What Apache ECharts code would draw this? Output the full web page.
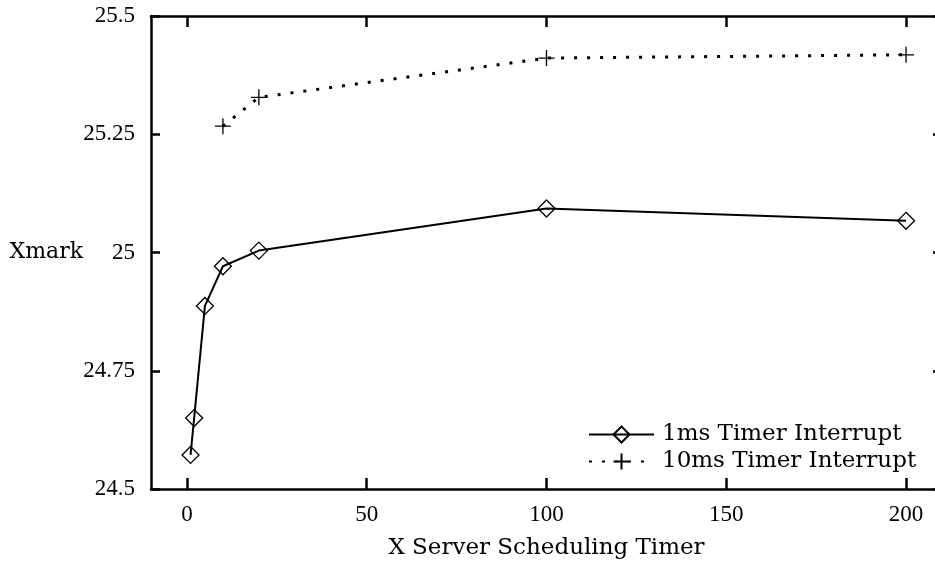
<!DOCTYPE html>
<html>
<head>
<meta charset="utf-8">
<script src="https://cdn.jsdelivr.net/npm/echarts@6/dist/echarts.min.js"></script>
<style>
html,body{margin:0;padding:0;background:#fff;}
#chart{width:935px;height:568px;}
</style>
</head>
<body>
<div id="chart"></div>
<script>
const xTicks = [0, 50, 100, 150, 200];
const series1Name = '1ms Timer Interrupt';
const series1X = [1, 2, 5, 10, 20, 100, 200];
const series1Y = [24.572, 24.650, 24.887, 24.971, 25.004, 25.093, 25.067];
const series2Name = '10ms Timer Interrupt';
const series2X = [10, 20, 100, 200];
const series2Y = [25.267, 25.328, 25.411, 25.418];
const xTitle = 'X Server Scheduling Timer';
const yTitle = 'Xmark';

const NUMFONT = 'Liberation Serif';
const TXTFONT = 'DejaVu Serif';
const pair = (xs, ys) => xs.map((x, i) => [x, ys[i]]);
const plusPath = 'path://M0,8L16,8M8,0L8,16';

const chart = echarts.init(document.getElementById('chart'), null, {renderer: 'canvas'});
const axisLine = {show: true, onZero: false, lineStyle: {color: '#000', width: 2.5}};
const tickStyle = {color: '#000', width: 2.5};

chart.setOption({
  animation: false,
  backgroundColor: '#fff',
  textStyle: {fontFamily: TXTFONT, color: '#000'},
  grid: {left: 151, top: 16, width: 791, height: 473, containLabel: false, outerBoundsMode: 'none'},
  xAxis: [{
    type: 'value', min: -10, max: 210, position: 'bottom',
    name: xTitle, nameLocation: 'middle', nameGap: 48, nameMoveOverlap: false,
    nameTextStyle: {fontFamily: TXTFONT, fontSize: 23, color: '#000'},
    axisLine: axisLine,
    axisTick: {show: true, inside: true, length: 11, lineStyle: tickStyle, customValues: xTicks},
    axisLabel: {show: true, fontFamily: NUMFONT, fontSize: 23, color: '#000', margin: 14, customValues: xTicks},
    splitLine: {show: false}
  }, {
    type: 'value', min: -10, max: 210, position: 'top',
    axisLine: axisLine,
    axisTick: {show: true, inside: true, length: 11, lineStyle: tickStyle, customValues: xTicks},
    axisLabel: {show: false},
    splitLine: {show: false}
  }],
  yAxis: [{
    type: 'value', min: 24.5, max: 25.5, interval: 0.25, position: 'left',
    name: yTitle, nameLocation: 'middle', nameRotate: 0, nameGap: 68, nameMoveOverlap: false,
    nameTextStyle: {fontFamily: TXTFONT, fontSize: 22, color: '#000', align: 'right', verticalAlign: 'middle'},
    axisLine: axisLine,
    axisTick: {show: true, inside: true, length: 9, lineStyle: tickStyle},
    axisLabel: {show: true, fontFamily: NUMFONT, fontSize: 23, color: '#000', margin: 16},
    splitLine: {show: false}
  }, {
    type: 'value', min: 24.5, max: 25.5, interval: 0.25, position: 'right',
    axisLine: axisLine,
    axisTick: {show: true, inside: true, length: 9, lineStyle: tickStyle},
    axisLabel: {show: false},
    splitLine: {show: false}
  }],
  legend: {
    show: true, orient: 'vertical', left: 583, top: 418,
    itemWidth: 65, itemHeight: 20, itemGap: 4, align: 'left',
    textStyle: {fontFamily: TXTFONT, fontSize: 23, color: '#000', padding: [0, 0, 0, 3]},
    data: [series1Name, series2Name]
  },
  series: [{
    name: series1Name, type: 'line', xAxisIndex: 0, yAxisIndex: 0,
    data: pair(series1X, series1Y),
    symbol: 'diamond', symbolSize: 17,
    lineStyle: {color: '#000', width: 2, type: 'solid'},
    itemStyle: {color: 'rgba(255,255,255,0)', borderColor: '#000', borderWidth: 1.3},
    emphasis: {disabled: true}
  }, {
    name: series2Name, type: 'line', xAxisIndex: 0, yAxisIndex: 0,
    data: pair(series2X, series2Y),
    symbol: plusPath, symbolSize: 16,
    lineStyle: {color: '#000', width: 3, type: [3, 10]},
    itemStyle: {color: 'rgba(255,255,255,0)', borderColor: '#000', borderWidth: 1.3},
    emphasis: {disabled: true}
  }]
});
</script>
</body>
</html>
